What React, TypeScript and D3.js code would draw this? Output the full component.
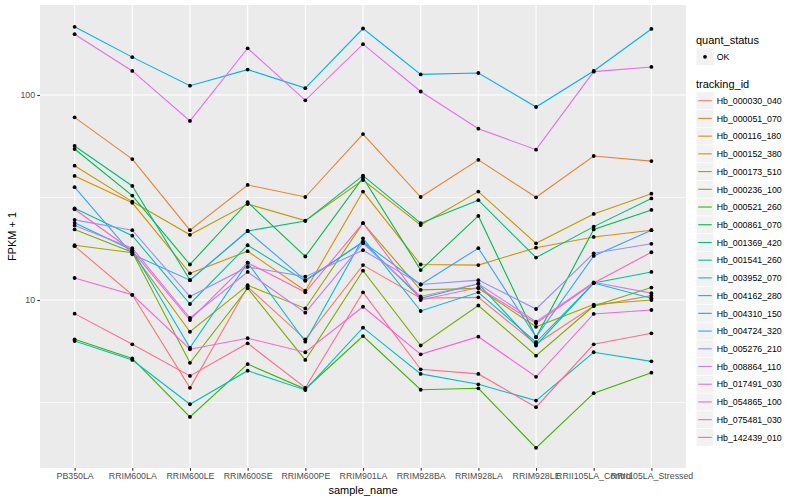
import * as d3 from "d3";
import { useEffect, useRef } from "react";

// ---- data (FPKM + 1) ----
const samples = [
  "PB350LA",
  "RRIM600LA",
  "RRIM600LE",
  "RRIM600SE",
  "RRIM600PE",
  "RRIM901LA",
  "RRIM928BA",
  "RRIM928LA",
  "RRIM928LE",
  "RRII105LA_Control",
  "RRII105LA_Stressed",
];

const trackingIds = [
  "Hb_000030_040",
  "Hb_000051_070",
  "Hb_000116_180",
  "Hb_000152_380",
  "Hb_000173_510",
  "Hb_000236_100",
  "Hb_000521_260",
  "Hb_000861_070",
  "Hb_001369_420",
  "Hb_001541_260",
  "Hb_003952_070",
  "Hb_004162_280",
  "Hb_004310_150",
  "Hb_004724_320",
  "Hb_005276_210",
  "Hb_008864_110",
  "Hb_017491_030",
  "Hb_054865_100",
  "Hb_075481_030",
  "Hb_142439_010",
];

const hb000030_040 = [18.3, 10.6, 3.73, 11.6, 6.43, 14.8, 10.2, 10.3, 6.1, 9.35, 10.5];
const hb000051_070 = [77.8, 48.7, 21.9, 36.4, 31.8, 64.5, 31.8, 48.3, 31.7, 50.4, 47.6];
const hb000116_180 = [40.3, 29.8, 13.5, 17.3, 11.1, 33.8, 14.9, 14.8, 18.0, 20.3, 21.9];
const hb000152_380 = [45.2, 30.2, 20.8, 29.4, 24.4, 38.5, 23.2, 33.8, 18.9, 26.3, 33.0];
const hb000173_510 = [18.5, 17.0, 7.0, 11.8, 9.1, 23.7, 11.2, 11.4, 7.4, 9.5, 10.0];
const hb000236_100 = [22.1, 17.1, 4.94, 11.4, 5.1, 13.9, 6.0, 9.4, 5.35, 9.35, 11.5];
const hb000521_260 = [6.43, 5.19, 2.69, 4.87, 3.68, 6.67, 3.65, 3.71, 1.9, 3.51, 4.42];
const hb000861_070 = [54.5, 32.3, 14.9, 30.0, 16.3, 39.5, 14.0, 25.7, 6.58, 22.1, 27.5];
const hb001369_420 = [56.4, 36.0, 12.5, 21.7, 24.3, 40.4, 23.7, 30.7, 16.1, 22.8, 31.3];
const hb001541_260 = [28.0, 20.6, 9.56, 18.5, 12.4, 19.2, 10.2, 12.0, 6.0, 12.1, 13.7];
const hb003952_070 = [6.31, 5.1, 3.1, 4.52, 3.64, 7.33, 4.36, 3.88, 3.23, 5.56, 5.02];
const hb004162_280 = [23.8, 17.5, 5.85, 15.2, 6.26, 20.0, 8.84, 10.9, 6.22, 12.1, 10.2];
const hb004310_150 = [215, 153, 111, 133, 108, 211, 126, 128, 87.4, 131, 210];
const hb004724_320 = [35.5, 16.7, 12.5, 21.7, 12.5, 19.2, 11.9, 17.9, 6.6, 16.4, 21.9];
const hb005276_210 = [24.6, 21.9, 10.4, 14.5, 13.0, 17.5, 11.9, 12.5, 9.04, 16.9, 18.8];
const hb008864_110 = [23.1, 17.9, 8.17, 13.7, 8.67, 18.9, 10.4, 12.0, 7.84, 12.2, 10.8];
const hb017491_030 = [198, 131, 74.7, 169, 94.2, 177, 104, 68.5, 54.1, 130, 137];
const hb054865_100 = [12.8, 10.6, 5.75, 6.51, 5.56, 9.27, 5.43, 6.62, 4.22, 8.55, 8.94];
const hb075481_030 = [27.7, 17.4, 7.99, 15.2, 10.9, 23.7, 10.0, 11.5, 7.7, 12.1, 17.1];
const hb142439_010 = [8.58, 6.08, 4.26, 6.15, 3.73, 10.9, 4.59, 4.36, 3.0, 6.08, 6.88];

const seriesValues = [
  hb000030_040, hb000051_070, hb000116_180, hb000152_380, hb000173_510,
  hb000236_100, hb000521_260, hb000861_070, hb001369_420, hb001541_260,
  hb003952_070, hb004162_280, hb004310_150, hb004724_320, hb005276_210,
  hb008864_110, hb017491_030, hb054865_100, hb075481_030, hb142439_010,
];

const quantStatus = ["OK"];
const yTicks = [10, 100];
const yMinor = [10 ** 0.5, 10 ** 1.5];

// ggplot hue palette, 20 levels
const palette = [
  "#F8766D", "#EA8331", "#D89000", "#C09B00", "#A3A500",
  "#7CAE00", "#39B600", "#00BB4E", "#00BF7D", "#00C1A3",
  "#00BFC4", "#00BAE0", "#00B0F6", "#35A2FF", "#9590FF",
  "#C77CFF", "#E76BF3", "#FA62DB", "#FF62BC", "#FF6C91",
];

// ---- layout ----
const W = 800;
const H = 500;
const panel = { left: 40, right: 686, top: 5, bottom: 468 };
const yDomain: [number, number] = [10 ** 0.1805, 10 ** 2.439];
const font = "'Liberation Sans', Arial, Helvetica, sans-serif";

type Pt = { sample: string; value: number };

const App = () => {
  const svgRef = useRef<SVGSVGElement | null>(null);

  useEffect(() => {
    const svg = d3.select(svgRef.current);
    svg.selectAll("*").remove();

    const x = d3
      .scalePoint<string>()
      .domain(samples)
      .range([panel.left, panel.right])
      .padding(0.6);
    const y = d3.scaleLog().domain(yDomain).range([panel.bottom, panel.top]);

    // panel background + grid
    svg
      .append("rect")
      .attr("x", panel.left)
      .attr("y", panel.top)
      .attr("width", panel.right - panel.left)
      .attr("height", panel.bottom - panel.top)
      .attr("fill", "#EBEBEB");

    const grid = svg.append("g").attr("stroke", "#FFFFFF");
    grid
      .selectAll("line.minor")
      .data(yMinor)
      .join("line")
      .attr("class", "minor")
      .attr("x1", panel.left)
      .attr("x2", panel.right)
      .attr("y1", (d) => y(d))
      .attr("y2", (d) => y(d))
      .attr("stroke-width", 0.55);
    grid
      .selectAll("line.major-y")
      .data(yTicks)
      .join("line")
      .attr("class", "major-y")
      .attr("x1", panel.left)
      .attr("x2", panel.right)
      .attr("y1", (d) => y(d))
      .attr("y2", (d) => y(d))
      .attr("stroke-width", 1.1);
    grid
      .selectAll("line.major-x")
      .data(samples)
      .join("line")
      .attr("class", "major-x")
      .attr("x1", (d) => x(d)!)
      .attr("x2", (d) => x(d)!)
      .attr("y1", panel.top)
      .attr("y2", panel.bottom)
      .attr("stroke-width", 1.1);

    // lines
    const line = d3
      .line<Pt>()
      .x((d) => x(d.sample)!)
      .y((d) => y(d.value));

    const series = seriesValues.map((vals, i) => ({
      id: trackingIds[i],
      color: palette[i],
      pts: vals.map((v, j) => ({ sample: samples[j], value: v })),
    }));

    svg
      .append("g")
      .selectAll("path")
      .data(series)
      .join("path")
      .attr("fill", "none")
      .attr("stroke", (d) => d.color)
      .attr("stroke-width", 1.1)
      .attr("d", (d) => line(d.pts));

    // points
    svg
      .append("g")
      .selectAll("circle")
      .data(series.flatMap((s) => s.pts))
      .join("circle")
      .attr("cx", (d) => x(d.sample)!)
      .attr("cy", (d) => y(d.value))
      .attr("r", 1.9)
      .attr("fill", "#000000");

    // axes
    const yAxis = svg
      .append("g")
      .attr("transform", `translate(${panel.left},0)`)
      .call(
        d3
          .axisLeft(y)
          .tickValues(yTicks)
          .tickFormat((d) => String(d))
          .tickSize(2.75)
          .tickPadding(2.2),
      );
    const xAxis = svg
      .append("g")
      .attr("transform", `translate(0,${panel.bottom})`)
      .call(d3.axisBottom(x).tickSize(2.75).tickPadding(2.2));

    [yAxis, xAxis].forEach((g) => {
      g.select(".domain").remove();
      g.attr("font-family", font).attr("font-size", 8.8);
      g.selectAll(".tick line").attr("stroke", "#333333").attr("stroke-width", 1.1);
      g.selectAll(".tick text").attr("fill", "#4D4D4D");
    });

    // axis titles
    svg
      .append("text")
      .attr("x", (panel.left + panel.right) / 2)
      .attr("y", 494)
      .attr("text-anchor", "middle")
      .attr("font-family", font)
      .attr("font-size", 11)
      .attr("fill", "#000")
      .text("sample_name");
    svg
      .append("text")
      .attr("transform", `translate(16,${(panel.top + panel.bottom) / 2}) rotate(-90)`)
      .attr("text-anchor", "middle")
      .attr("font-family", font)
      .attr("font-size", 11)
      .attr("fill", "#000")
      .text("FPKM + 1");

    // legend
    const legend = svg.append("g").attr("font-family", font);
    const keyX = 696;
    const keySize = 17;

    legend
      .append("text")
      .attr("x", keyX)
      .attr("y", 44)
      .attr("font-size", 11)
      .text("quant_status");

    const qs = legend
      .selectAll("g.qs")
      .data(quantStatus)
      .join("g")
      .attr("class", "qs")
      .attr("transform", (_, i) => `translate(${keyX},${56.8 + i * 17.7})`);
    qs.append("rect")
      .attr("x", 0.5)
      .attr("y", -keySize / 2)
      .attr("width", keySize)
      .attr("height", keySize)
      .attr("fill", "#F2F2F2");
    qs.append("circle").attr("cx", 9).attr("cy", 0).attr("r", 1.9).attr("fill", "#000");
    qs.append("text")
      .attr("x", 20.7)
      .attr("y", 3.2)
      .attr("font-size", 8.8)
      .text((d) => d);

    legend
      .append("text")
      .attr("x", keyX)
      .attr("y", 88)
      .attr("font-size", 11)
      .text("tracking_id");

    const keys = legend
      .selectAll("g.key")
      .data(series)
      .join("g")
      .attr("class", "key")
      .attr("transform", (_, i) => `translate(${keyX},${100.7 + i * 17.72})`);
    keys
      .append("rect")
      .attr("x", 0.5)
      .attr("y", -keySize / 2)
      .attr("width", keySize)
      .attr("height", keySize)
      .attr("fill", "#F2F2F2");
    keys
      .append("line")
      .attr("x1", 2.2)
      .attr("x2", 15.8)
      .attr("y1", 0)
      .attr("y2", 0)
      .attr("stroke", (d) => d.color)
      .attr("stroke-width", 1.1);
    keys
      .append("text")
      .attr("x", 20.7)
      .attr("y", 3.2)
      .attr("font-size", 8.8)
      .text((d) => d.id);
  }, []);

  return (
    <svg
      ref={svgRef}
      width={W}
      height={H}
      style={{ position: "absolute", left: 0, top: 0, background: "#fff" }}
    />
  );
};

export default App;
